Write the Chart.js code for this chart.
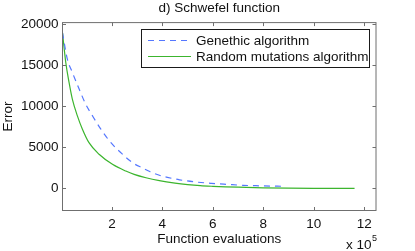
<!DOCTYPE html>
<html>
<head>
<meta charset="utf-8">
<script src="https://cdn.jsdelivr.net/npm/chart.js@4/dist/chart.umd.min.js"></script>
<style>
    html, body { margin: 0; padding: 0; background: #fff; }
    #wrap { width: 415px; height: 251px; }
</style>
</head>
<body>
<div id="wrap"><canvas id="chartSchwefel" width="415" height="251"></canvas></div>
<script>
// x values are in units of 10^5 function evaluations
const gaX = [0.04, 0.23, 0.43, 0.70, 0.96, 1.23, 1.56, 1.96, 2.42, 2.82, 3.2, 3.5, 3.88, 4.2, 4.68, 5.27, 5.94, 6.6, 7.2, 7.86, 8.46, 8.75];
const gaY = [18900, 15730, 14100, 12070, 10240, 8820, 7200, 5560, 4150, 3120, 2500, 2050, 1600, 1350, 1050, 800, 620, 490, 380, 320, 280, 260];

const rmaX = [0.04, 0.17, 0.30, 0.43, 0.63, 0.83, 1.09, 1.49, 2.02, 2.55, 2.88, 3.35, 3.88, 4.5, 5.0, 5.5, 6.0, 6.5, 7.0, 8.0, 9.0, 10.0, 11.0, 11.62];
const rmaY = [18900, 15300, 12880, 10850, 8820, 7200, 5560, 4150, 2930, 2110, 1710, 1300, 950, 650, 470, 340, 260, 200, 150, 80, 40, 15, 5, 0];

const xTicks = [2, 4, 6, 8, 10, 12];
const yTicks = [0, 5000, 10000, 15000, 20000];

const labelGA = 'Genethic algorithm';
const labelRMA = 'Random mutations algorithm';

const FONT = "'Liberation Sans', Arial, Helvetica, sans-serif";
const FS = 13.5;
const AXIS_COLOR = '#6f6f6f';

Chart.defaults.font.family = FONT;
Chart.defaults.font.size = FS;
Chart.defaults.color = '#111';

const toPoints = (xs, ys) => xs.map((x, i) => ({ x: x, y: ys[i] }));

// MATLAB style box with inward ticks on all sides
const boxPlugin = {
    id: 'matlabBox',
    afterDatasetsDraw(chart) {
        const { ctx, chartArea } = chart;
        const { left, right, top, bottom } = chartArea;
        const tl = 3.5;
        ctx.save();
        ctx.strokeStyle = AXIS_COLOR;
        ctx.lineWidth = 1;
        ctx.strokeRect(left, top, right - left, bottom - top);
        ctx.beginPath();
        chart.scales.x.ticks.forEach(t => {
            const px = Math.round(chart.scales.x.getPixelForValue(t.value)) + 0.5;
            ctx.moveTo(px, bottom); ctx.lineTo(px, bottom - tl);
            ctx.moveTo(px, top); ctx.lineTo(px, top + tl);
        });
        chart.scales.y.ticks.forEach(t => {
            const py = Math.round(chart.scales.y.getPixelForValue(t.value)) + 0.5;
            ctx.moveTo(left, py); ctx.lineTo(left + tl, py);
            ctx.moveTo(right, py); ctx.lineTo(right - tl, py);
        });
        ctx.stroke();
        ctx.restore();
    },
    afterDraw(chart) {
        const { ctx } = chart;
        ctx.save();
        // exponent label under the x axis
        ctx.fillStyle = '#111';
        ctx.textBaseline = 'middle';
        ctx.textAlign = 'left';
        ctx.font = FS + 'px ' + FONT;
        ctx.fillText('x 10', 346, 245.5);
        ctx.font = '9px ' + FONT;
        ctx.fillText('5', 372, 238.5);
        ctx.restore();
    }
};

// legend drawn inside the plot area, top right
const legendPlugin = {
    id: 'insideLegend',
    afterDraw(chart) {
        const { ctx } = chart;
        const bx = 141.5, by = 29.5, bw = 228, bh = 38;
        ctx.save();
        ctx.fillStyle = '#fff';
        ctx.fillRect(bx, by, bw, bh);
        ctx.strokeStyle = '#1a1a1a';
        ctx.lineWidth = 1;
        ctx.strokeRect(bx, by, bw, bh);
        chart.data.datasets.forEach((ds, i) => {
            const y = 40.5 + i * 16;
            ctx.beginPath();
            ctx.strokeStyle = ds.borderColor;
            ctx.lineWidth = ds.borderWidth;
            ctx.setLineDash(ds.borderDash || []);
            ctx.moveTo(148, y);
            ctx.lineTo(191, y);
            ctx.stroke();
            ctx.setLineDash([]);
            ctx.fillStyle = '#111';
            ctx.font = FS + 'px ' + FONT;
            ctx.textBaseline = 'middle';
            ctx.textAlign = 'left';
            ctx.fillText(ds.label, 196, y + 0.5);
        });
        ctx.restore();
    }
};

const ctx = document.getElementById('chartSchwefel').getContext('2d');
new Chart(ctx, {
    type: 'line',
    data: {
        datasets: [{
            label: labelGA,
            data: toPoints(gaX, gaY),
            borderColor: '#5577ff',
            borderWidth: 1.2,
            borderDash: [6, 5],
            pointRadius: 0,
            fill: false,
            cubicInterpolationMode: 'monotone'
        }, {
            label: labelRMA,
            data: toPoints(rmaX, rmaY),
            borderColor: '#3cb52e',
            borderWidth: 1.2,
            pointRadius: 0,
            fill: false,
            cubicInterpolationMode: 'monotone'
        }]
    },
    options: {
        responsive: false,
        animation: false,
        devicePixelRatio: 1,
        layout: { padding: { left: 0, right: 39, top: 0, bottom: 0 } },
        plugins: {
            legend: { display: false },
            tooltip: { enabled: false },
            title: {
                display: true,
                text: 'd) Schwefel function',
                fullSize: false,
                color: '#111',
                font: { size: FS, weight: 'normal' },
                padding: { top: 0, bottom: 6.4 }
            }
        },
        scales: {
            x: {
                type: 'linear',
                min: 0.04,
                max: 12.47,
                afterBuildTicks: s => { s.ticks = xTicks.map(v => ({ value: v })); },
                afterFit: s => { s.height = 40.5; },
                grid: { display: false, drawTicks: false },
                border: { display: false },
                ticks: { padding: 5.5, color: '#111', maxRotation: 0, callback: v => String(v) },
                title: {
                    display: true,
                    text: 'Function evaluations',
                    color: '#111',
                    font: { size: FS },
                    padding: { top: 0, bottom: 3.5 }
                }
            },
            y: {
                type: 'linear',
                min: -2680,
                max: 20150,
                afterBuildTicks: s => { s.ticks = yTicks.map(v => ({ value: v })); },
                afterFit: s => { s.width = 62.5; },
                grid: { display: false, drawTicks: false },
                border: { display: false },
                ticks: { padding: 4, color: '#111', callback: v => String(v) },
                title: {
                    display: true,
                    text: 'Error',
                    color: '#111',
                    font: { size: FS },
                    padding: { top: 0.5, bottom: 0 }
                }
            }
        }
    },
    plugins: [boxPlugin, legendPlugin]
});
</script>
</body>
</html>
